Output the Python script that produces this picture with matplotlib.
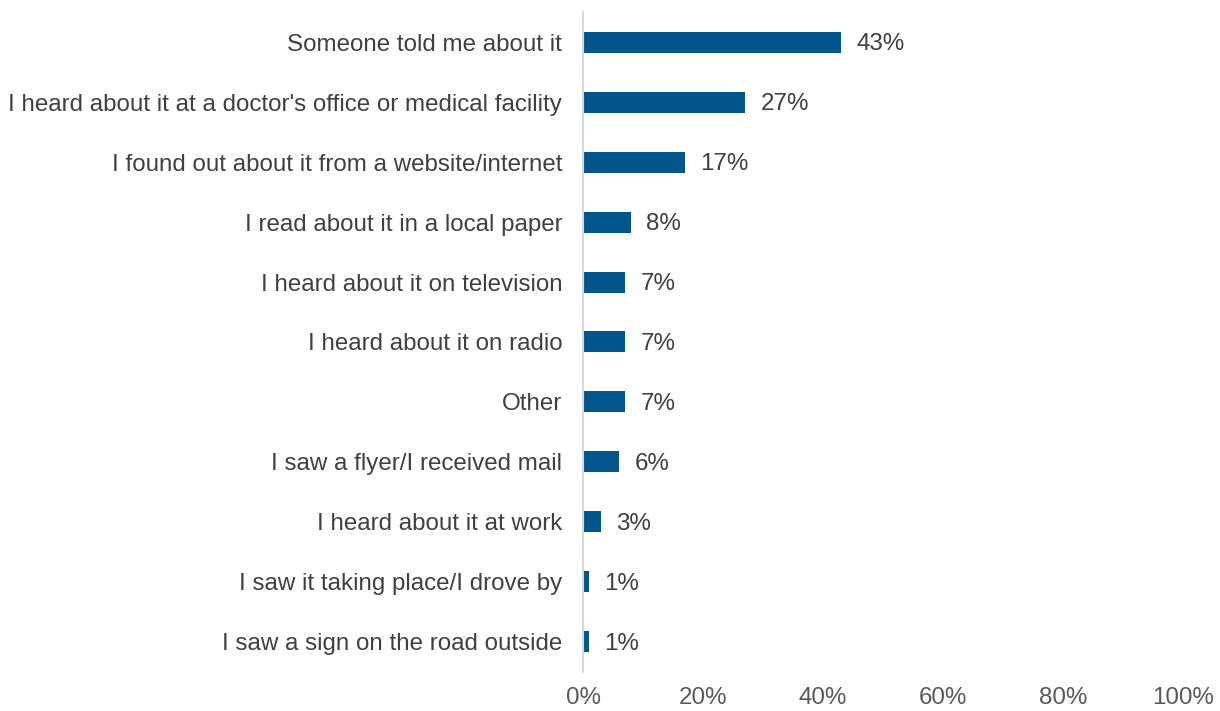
import matplotlib.pyplot as plt
from matplotlib.ticker import PercentFormatter

plt.rcParams['font.family'] = ['Liberation Sans', 'DejaVu Sans']

sources = [
    "Someone told me about it",
    "I heard about it at a doctor's office or medical facility",
    "I found out about it from a website/internet",
    "I read about it in a local paper",
    "I heard about it on television",
    "I heard about it on radio",
    "Other",
    "I saw a flyer/I received mail",
    "I heard about it at work",
    "I saw it taking place/I drove by",
    "I saw a sign on the road outside",
]
shares = [43, 27, 17, 8, 7, 7, 7, 6, 3, 1, 1]

bar_color = '#02568B'
text_color = '#404040'
fs = 17.4

fig = plt.figure(figsize=(12.2, 7.11), dpi=100)
ax = fig.add_axes([0.478, 0.055, 0.4918, 0.928])

ypos = list(range(len(sources)))
ax.barh(ypos, shares, height=0.35, color=bar_color)

# value labels just right of each bar
for y, v in zip(ypos, shares):
    ax.annotate(f"{v}%", (v, y), xytext=(11, -1.5), textcoords='offset points',
                va='center', ha='left', fontsize=fs, color=text_color)

ax.set_yticks(ypos)
ax.set_yticklabels(sources, fontsize=fs, color=text_color)
ax.set_ylim(len(sources) - 0.5, -0.5)
ax.set_xlim(0, 100)
ax.set_xticks(range(0, 101, 20))
ax.xaxis.set_major_formatter(PercentFormatter(decimals=0))
ax.tick_params(axis='x', length=0, pad=11, labelsize=fs, labelcolor='#595959')
ax.tick_params(axis='y', length=0, pad=15)

for side in ['top', 'right', 'bottom']:
    ax.spines[side].set_visible(False)
ax.spines['left'].set_color('#D9D9D9')
ax.spines['left'].set_linewidth(1.5)

fig.savefig('out.png', dpi=100)
